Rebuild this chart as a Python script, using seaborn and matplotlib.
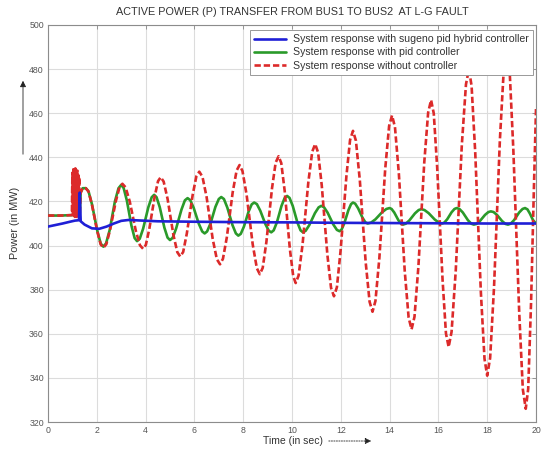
import matplotlib
matplotlib.use("Agg")
import matplotlib.pyplot as plt
from matplotlib.lines import Line2D
import seaborn as sns

# ---------------- data ----------------
title = "ACTIVE POWER (P) TRANSFER FROM BUS1 TO BUS2  AT L-G FAULT"
x_label = "Time (in sec)"
y_label = "Power (in MW)"
series_labels = [
    "System response with sugeno pid hybrid controller",
    "System response with pid controller",
    "System response without controller",
]
x_ticks = [0, 2, 4, 6, 8, 10, 12, 14, 16, 18, 20]
y_ticks = [320, 340, 360, 380, 400, 420, 440, 460, 480, 500]

blue_t = [0, 0.3, 0.6, 0.9, 1.1, 1.27, 1.30, 1.34, 1.5, 1.8, 2.1, 2.4, 2.7,
          3.0, 3.3, 3.7, 4.5, 6, 8, 10, 12, 14, 16, 18, 20]
blue_p = [408.6, 409.3, 410.0, 410.8, 411.3, 411.5, 424, 411, 409.5, 407.8,
          407.6, 408.6, 410.0, 411.2, 411.6, 411.4, 411.0, 410.8, 410.6,
          410.5, 410.3, 410.2, 410.1, 410.0, 410.0]

green_t = [0, 0.5, 0.98, 1.30, 1.34, 1.42, 1.55,
           1.66, 1.80, 2.02, 2.16, 2.27,
           2.38, 2.53, 2.74, 2.89, 3.00,
           3.10, 3.23, 3.42, 3.55, 3.65,
           3.76, 3.90, 4.11, 4.25, 4.35,
           4.45, 4.58, 4.77, 4.90, 5.00,
           5.11, 5.25, 5.47, 5.61, 5.72,
           5.83, 5.97, 6.18, 6.32, 6.42,
           6.52, 6.66, 6.86, 7.00, 7.10,
           7.21, 7.35, 7.56, 7.70, 7.80,
           7.90, 8.03, 8.22, 8.35, 8.45,
           8.56, 8.70, 8.91, 9.05, 9.15,
           9.25, 9.38, 9.57, 9.70, 9.80,
           9.90, 10.03, 10.22, 10.35, 10.45,
           10.56, 10.71, 10.94, 11.09, 11.20,
           11.31, 11.46, 11.69, 11.84, 11.95,
           12.03, 12.14, 12.31, 12.42, 12.50,
           12.59, 12.71, 12.89, 13.01, 13.10,
           13.24, 13.42, 13.69, 13.87, 14.00,
           14.08, 14.19, 14.36, 14.47, 14.55,
           14.66, 14.81, 15.04, 15.19, 15.30,
           15.43, 15.60, 15.85, 16.02, 16.15,
           16.24, 16.36, 16.54, 16.66, 16.75,
           16.86, 17.00, 17.21, 17.35, 17.45,
           17.56, 17.70, 17.91, 18.05, 18.15,
           18.26, 18.40, 18.61, 18.75, 18.85,
           18.96, 19.10, 19.31, 19.45, 19.55,
           19.65, 19.75, 19.88, 20.00]
green_p = [413.6, 413.6, 413.8, 414, 424, 426, 426,
           424.6, 418.8, 406.7, 400.9, 399.5,
           401.0, 407.1, 419.9, 426.0, 427.5,
           426.1, 420.5, 409.0, 403.4, 402,
           403.1, 407.7, 417.3, 421.9, 423,
           421.9, 417.4, 408.1, 403.6, 402.5,
           403.5, 407.7, 416.3, 420.5, 421.5,
           420.6, 417.1, 409.9, 406.4, 405.5,
           406.4, 410.0, 417.5, 421.1, 422,
           421.1, 417.2, 409.3, 405.5, 404.5,
           405.3, 408.6, 415.4, 418.7, 419.5,
           418.8, 415.8, 409.7, 406.7, 406,
           406.9, 410.5, 418.0, 421.6, 422.5,
           421.6, 418.0, 410.5, 406.9, 406,
           406.7, 409.3, 414.7, 417.3, 418,
           417.4, 414.9, 409.6, 407.1, 406.5,
           407.2, 410.0, 416.0, 418.8, 419.5,
           419.0, 416.9, 412.6, 410.5, 410,
           410.4, 411.9, 415.1, 416.6, 417,
           416.6, 415.0, 411.5, 409.9, 409.5,
           409.9, 411.4, 414.6, 416.1, 416.5,
           416.1, 414.7, 411.8, 410.4, 410,
           410.4, 411.9, 415.1, 416.6, 417,
           416.6, 415.0, 411.5, 409.9, 409.5,
           409.8, 411.1, 413.9, 415.2, 415.5,
           415.2, 413.9, 411.1, 409.8, 409.5,
           409.9, 411.5, 415.0, 416.6, 417,
           416.4, 414.5, 411.5, 410]

red_t = [0, 0.5, 0.98, 1.00, 1.02, 1.04, 1.06, 1.08, 1.10, 1.12, 1.14, 1.16,
         1.18, 1.20, 1.22, 1.24, 1.26, 1.28, 1.30, 1.34, 1.42, 1.55,
         1.66, 1.80, 2.02, 2.16, 2.27,
         2.39, 2.54, 2.78, 2.93, 3.05,
         3.18, 3.35, 3.60, 3.77, 3.90,
         4.01, 4.15, 4.37, 4.51, 4.62,
         4.74, 4.90, 5.14, 5.30, 5.42,
         5.54, 5.69, 5.93, 6.08, 6.20,
         6.33, 6.50, 6.75, 6.92, 7.05,
         7.17, 7.33, 7.57, 7.73, 7.85,
         7.97, 8.14, 8.39, 8.56, 8.68,
         8.80, 8.95, 9.18, 9.33, 9.45,
         9.56, 9.70, 9.91, 10.05, 10.15,
         10.27, 10.43, 10.67, 10.83, 10.95,
         11.07, 11.22, 11.45, 11.60, 11.72,
         11.84, 11.99, 12.23, 12.38, 12.50,
         12.62, 12.78, 13.02, 13.18, 13.30,
         13.42, 13.58, 13.82, 13.98, 14.10,
         14.22, 14.38, 14.62, 14.78, 14.90,
         15.02, 15.18, 15.42, 15.58, 15.70,
         15.81, 15.95, 16.17, 16.31, 16.42,
         16.54, 16.71, 16.96, 17.13, 17.25,
         17.36, 17.51, 17.74, 17.89, 18.00,
         18.12, 18.28, 18.52, 18.68, 18.80,
         18.92, 19.07, 19.31, 19.46, 19.58,
         19.68, 19.80, 19.90, 20.00]
red_p = [413.6, 413.6, 413.8, 433, 414, 435.5, 413.5, 434.5, 413, 435, 413.5, 433,
         413, 434, 413.5, 432, 414, 431, 414, 424, 426, 426,
         424.5, 418.6, 406.4, 400.5, 399,
         400.6, 406.9, 420.1, 426.4, 428,
         426.4, 420.0, 406.6, 400.1, 398.5,
         400.3, 407.4, 422.1, 429.2, 431,
         429.0, 421.2, 404.8, 397.0, 395,
         397.1, 405.5, 423.0, 431.4, 433.5,
         431.2, 422.0, 403.0, 393.8, 391.5,
         394.0, 403.8, 424.2, 434.0, 436.5,
         433.8, 423.0, 400.5, 389.7, 387,
         389.9, 401.6, 425.9, 437.6, 440.5,
         437.4, 424.8, 398.7, 386.1, 383,
         386.4, 400.2, 428.8, 442.6, 446,
         442.2, 427.2, 395.8, 380.8, 377,
         381.1, 397.5, 431.5, 447.9, 452,
         447.5, 429.6, 392.4, 374.5, 370,
         374.9, 394.3, 434.7, 454.2, 459,
         453.7, 432.5, 388.5, 367.3, 362,
         367.7, 390.4, 437.6, 460.3, 466,
         459.9, 435.4, 384.6, 360.1, 354,
         360.9, 388.4, 445.6, 473.1, 480,
         472.4, 442.1, 378.9, 348.6, 341,
         349.0, 381.1, 447.9, 480.0, 488,
         479.2, 443.8, 370.2, 334.8, 326,
         335, 375, 420, 462]

# ---------------- styling ----------------
sns.set_theme(style="white")
plt.rcParams['font.family'] = ['Liberation Sans', 'DejaVu Sans']

c_blue = "#1f1fd6"
c_green = "#2a9a2a"
c_red = "#dc2a2a"
txt = "#333333"
red_dash = (0, (2.4, 1.1))

fig = plt.figure(figsize=(5.41, 4.51), dpi=100)
ax = fig.add_axes([48 / 541, 1 - 422 / 451, (536 - 48) / 541, (422 - 25) / 451])

sns.lineplot(x=green_t, y=green_p, ax=ax, color=c_green, linewidth=1.9, zorder=3,
             sort=False, estimator=None)
sns.lineplot(x=red_t, y=red_p, ax=ax, color=c_red, linewidth=1.9, zorder=4,
             sort=False, estimator=None)
ax.lines[-1].set_linestyle(red_dash)
sns.lineplot(x=blue_t, y=blue_p, ax=ax, color=c_blue, linewidth=1.9, zorder=5,
             sort=False, estimator=None)

ax.set_xlim(0, 20)
ax.set_ylim(320, 500)
ax.set_xticks(x_ticks)
ax.set_yticks(y_ticks)
ax.set_xticklabels([str(v) for v in x_ticks])
ax.set_yticklabels([str(v) for v in y_ticks])
ax.tick_params(axis="both", labelsize=6.3, labelcolor="#555555", colors="#888888",
               direction="in", length=3, width=0.6, top=True, right=True, pad=3)
ax.grid(True, color="#dcdcdc", linewidth=0.8, linestyle="-")
ax.set_axisbelow(True)
for s in ax.spines.values():
    s.set_color("#8c8c8c")
    s.set_linewidth(0.8)
ax.set_xlabel("")
ax.set_ylabel("")

handles = [Line2D([], [], color=c_blue, linewidth=1.9),
           Line2D([], [], color=c_green, linewidth=1.9),
           Line2D([], [], color=c_red, linewidth=1.9, linestyle=red_dash)]
leg = ax.legend(handles, series_labels, loc="upper right",
                bbox_to_anchor=(533 / 541, 1 - 30 / 451), bbox_transform=fig.transFigure,
                borderaxespad=0, fontsize=7.6, handlelength=3.0, handletextpad=0.7,
                labelspacing=0.3, borderpad=0.4, fancybox=False, framealpha=1,
                edgecolor="#999999")
leg.get_frame().set_linewidth(0.7)
for t in leg.get_texts():
    t.set_color(txt)
leg.set_zorder(10)

fig.text(292 / 541, 1 - 12 / 451, title, ha="center", va="center",
         fontsize=7.8, color=txt)
fig.text(293 / 541, 1 - 441 / 451, x_label, ha="center", va="center",
         fontsize=7.5, color=txt)
fig.text(15 / 541, 1 - 223 / 451, y_label, ha="center", va="center",
         fontsize=7.8, color=txt, rotation=90)

fig.add_artist(matplotlib.patches.FancyArrowPatch(
    (326 / 541, 1 - 441 / 451), (374 / 541, 1 - 441 / 451),
    transform=fig.transFigure, arrowstyle="-|>", mutation_scale=9,
    color="#222222", linewidth=0.6, linestyle=(0, (1.5, 1.5))))
fig.add_artist(matplotlib.patches.FancyArrowPatch(
    (23 / 541, 1 - 157 / 451), (23 / 541, 1 - 78 / 451),
    transform=fig.transFigure, arrowstyle="-|>", mutation_scale=9,
    color="#222222", linewidth=0.6))

fig.savefig("out.png", dpi=100)
